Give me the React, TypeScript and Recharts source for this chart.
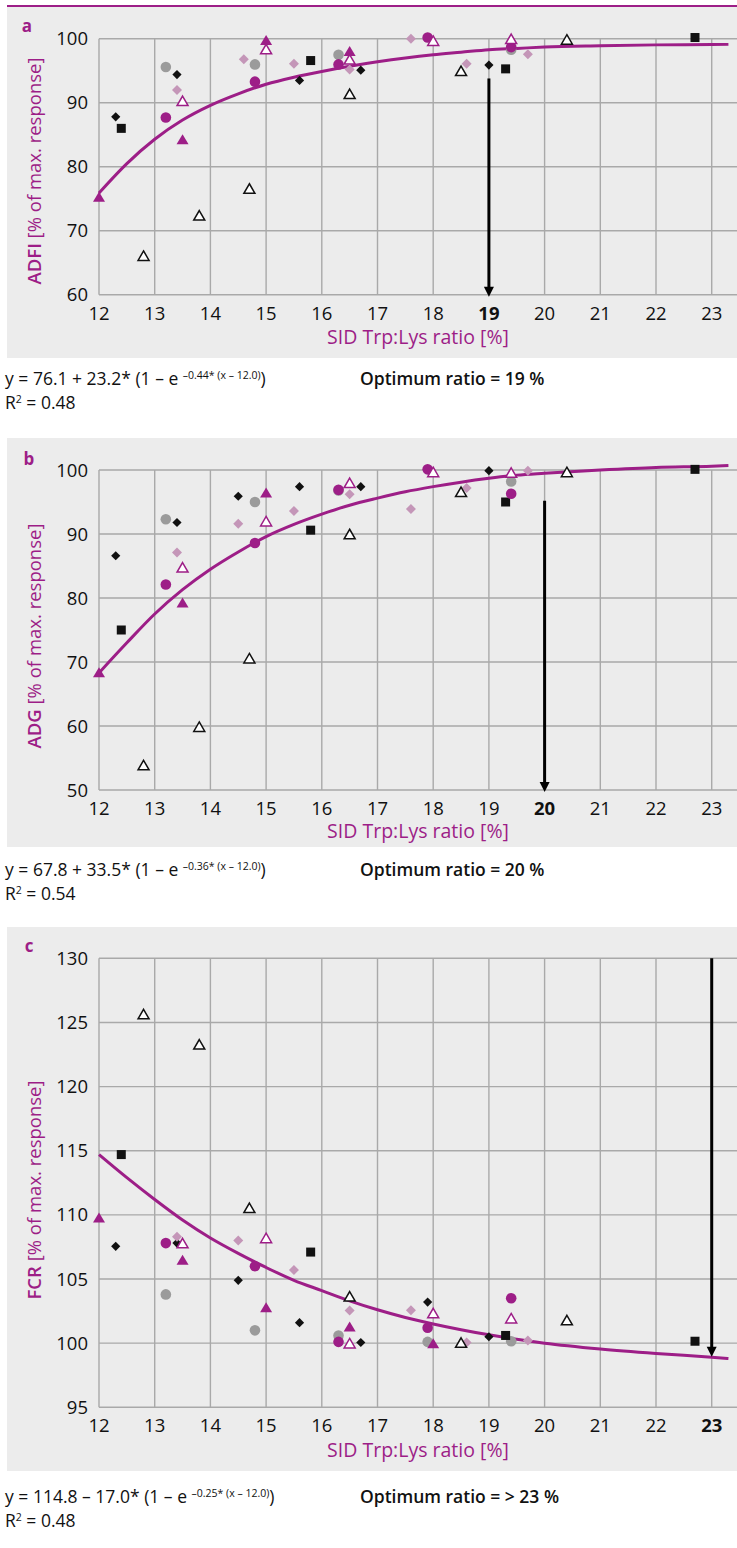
import React from "react";
import {
  ComposedChart,
  Scatter,
  Line,
  XAxis,
  YAxis,
  ReferenceLine,
} from "recharts";

const PURPLE = "#9d1e87";
const MAUVE = "#c496b8";
const GREY_DOT = "#9b9b9b";
const INK = "#111111";
const BG = "#ececec";
const GRID = "#a9a9a9";
const FONT = '"Open Sans", "Noto Sans", sans-serif';

type Pt = [number, number];

const xTicks = [12, 13, 14, 15, 16, 17, 18, 19, 20, 21, 22, 23];
const curveX = [12, 12.5, 13, 13.5, 14, 14.5, 15, 15.5, 16, 16.5, 17, 17.5, 18, 18.5, 19, 19.5, 20, 21, 22, 23, 23.3];

// a: ADFI
const adfiTicks = [60, 70, 80, 90, 100];
const adfiCurve = [75.9, 80.5, 84.3, 87.3, 89.6, 91.4, 92.9, 94.0, 94.9, 95.7, 96.4, 97.0, 97.5, 97.9, 98.3, 98.5, 98.7, 98.9, 99.05, 99.1, 99.15];
const adfiBlackDiamond: Pt[] = [[12.3, 87.8], [13.4, 94.4], [15.6, 93.5], [16.7, 95.1], [19.0, 95.9]];
const adfiBlackSquare: Pt[] = [[12.4, 86.0], [15.8, 96.6], [19.3, 95.3], [22.7, 100.2]];
const adfiGreyCircle: Pt[] = [[13.2, 95.6], [14.8, 96.0], [16.3, 97.5], [19.4, 98.3]];
const adfiPurpleCircle: Pt[] = [[13.2, 87.7], [14.8, 93.3], [16.3, 96.0], [17.9, 100.2], [19.4, 98.7]];
const adfiPurpleTri: Pt[] = [[12.0, 75.3], [13.5, 84.3], [15.0, 99.8], [16.5, 98.1]];
const adfiPurpleOpenTri: Pt[] = [[13.5, 90.3], [15.0, 98.4], [16.5, 96.8], [18.0, 99.7], [19.4, 100.0]];
const adfiBlackOpenTri: Pt[] = [[12.8, 66.1], [13.8, 72.4], [14.7, 76.6], [16.5, 91.4], [18.5, 95.0], [20.4, 99.9]];
const adfiMauveDiamond: Pt[] = [[13.4, 92.0], [14.6, 96.8], [15.5, 96.1], [16.5, 95.2], [17.6, 100.0], [18.6, 96.1], [19.7, 97.6]];

// b: ADG
const adgTicks = [50, 60, 70, 80, 90, 100];
const adgCurve = [68.3, 73.0, 77.5, 81.3, 84.5, 87.2, 89.6, 91.5, 93.1, 94.5, 95.6, 96.6, 97.4, 98.1, 98.7, 99.2, 99.5, 100.0, 100.4, 100.6, 100.7];
const adgBlackDiamond: Pt[] = [[12.3, 86.6], [13.4, 91.8], [14.5, 95.9], [15.6, 97.4], [16.7, 97.4], [19.0, 99.9]];
const adgBlackSquare: Pt[] = [[12.4, 75.0], [15.8, 90.6], [19.3, 95.0], [22.7, 100.1]];
const adgGreyCircle: Pt[] = [[13.2, 92.3], [14.8, 95.0], [16.3, 96.8], [19.4, 98.2]];
const adgPurpleCircle: Pt[] = [[13.2, 82.1], [14.8, 88.6], [16.3, 96.9], [17.9, 100.1], [19.4, 96.3]];
const adgPurpleTri: Pt[] = [[12.0, 68.4], [13.5, 79.3], [15.0, 96.5]];
const adgPurpleOpenTri: Pt[] = [[13.5, 84.8], [15.0, 92.0], [16.5, 98.0], [18.0, 99.7], [19.4, 99.6]];
const adgBlackOpenTri: Pt[] = [[12.8, 53.9], [13.8, 59.9], [14.7, 70.6], [16.5, 90.0], [18.5, 96.6], [20.4, 99.7]];
const adgMauveDiamond: Pt[] = [[13.4, 87.1], [14.5, 91.6], [15.5, 93.6], [16.5, 96.2], [17.6, 93.9], [18.6, 97.2], [19.7, 99.9]];

// c: FCR
const fcrTicks = [95, 100, 105, 110, 115, 120, 125, 130];
const fcrCurve = [114.7, 112.9, 111.2, 109.6, 108.2, 107.0, 105.9, 104.9, 104.1, 103.3, 102.6, 102.0, 101.5, 101.05, 100.65, 100.3, 100.0, 99.55, 99.2, 98.9, 98.8];
const fcrBlackDiamond: Pt[] = [[12.3, 107.55], [13.4, 107.8], [14.5, 104.9], [15.6, 101.6], [16.7, 100.05], [17.9, 103.2], [19.0, 100.5]];
const fcrBlackSquare: Pt[] = [[12.4, 114.7], [15.8, 107.1], [19.3, 100.6], [22.7, 100.15]];
const fcrGreyCircle: Pt[] = [[13.2, 103.8], [14.8, 101.0], [16.3, 100.6], [17.9, 100.1], [19.4, 100.15]];
const fcrPurpleCircle: Pt[] = [[13.2, 107.8], [14.8, 106.0], [16.3, 100.1], [17.9, 101.2], [19.4, 103.5]];
const fcrPurpleTri: Pt[] = [[12.0, 109.8], [13.5, 106.5], [15.0, 102.8], [16.5, 101.3], [18.0, 100.0]];
const fcrPurpleOpenTri: Pt[] = [[13.5, 107.8], [15.0, 108.2], [16.5, 100.0], [18.0, 102.35], [19.4, 101.95]];
const fcrBlackOpenTri: Pt[] = [[12.8, 125.65], [13.8, 123.3], [14.7, 110.55], [16.5, 103.65], [18.5, 100.05], [20.4, 101.8]];
const fcrMauveDiamond: Pt[] = [[13.4, 108.3], [14.5, 108.0], [15.5, 105.7], [16.5, 102.55], [17.6, 102.56], [18.6, 100.05], [19.7, 100.2]];

const pts = (arr: Pt[]) => arr.map(([x, y]) => ({ x, y }));
const curvePts = (ys: number[]) => curveX.map((x, i) => ({ x, y: ys[i] }));

// marker shapes
const diamond = (fill: string, r: number) => (p: any) => (
  <path d={`M${p.cx},${p.cy - r}L${p.cx + r},${p.cy}L${p.cx},${p.cy + r}L${p.cx - r},${p.cy}Z`} fill={fill} />
);
const square = (fill: string, s: number) => (p: any) => (
  <rect x={p.cx - s / 2} y={p.cy - s / 2} width={s} height={s} fill={fill} />
);
const circle = (fill: string, r: number) => (p: any) => <circle cx={p.cx} cy={p.cy} r={r} fill={fill} />;
const triangle = (fill: string, stroke: string, w: number, h: number) => (p: any) => (
  <path
    d={`M${p.cx},${p.cy - h / 2}L${p.cx + w / 2},${p.cy + h / 2}L${p.cx - w / 2},${p.cy + h / 2}Z`}
    fill={fill}
    stroke={stroke}
    strokeWidth={stroke === "none" ? 0 : 1.5}
  />
);
const arrowHead = (p: any) => (
  <path d={`M${p.cx - 5},${p.cy - 8}L${p.cx + 5},${p.cy - 8}L${p.cx},${p.cy + 2}Z`} fill="#000" />
);

const markerShapes = {
  greyCircle: circle(GREY_DOT, 5.3),
  blackDiamond: diamond(INK, 4.6),
  blackSquare: square(INK, 9),
  mauveDiamond: diamond(MAUVE, 5),
  purpleCircle: circle(PURPLE, 5.3),
  purpleTri: triangle(PURPLE, "none", 12, 10),
  purpleOpenTri: triangle("#ffffff", PURPLE, 11, 9.5),
  blackOpenTri: triangle("#ffffff", INK, 11, 9.5),
};
type Key = keyof typeof markerShapes;

type PanelProps = {
  top: number;
  height: number;
  mt: number;
  mb: number;
  yDomain: [number, number];
  yTicks: number[];
  curve: number[];
  series: [Key, Pt[]][];
  optimum: number;
  arrowFrom: number;
  arrowTo: number;
  arrowTip: number;
};

const X_MAX = 23.454;

function Panel(props: PanelProps) {
  const { top, height, mt, mb, yDomain, yTicks, curve, series, optimum } = props;
  const yTop = yTicks[yTicks.length - 1];
  const renderTick = (p: any) => (
    <text
      x={p.x}
      y={p.y + 13}
      textAnchor="middle"
      fontSize={18.5}
      fontWeight={p.payload.value === optimum ? 700 : 400}
      fill={INK}
    >
      {p.payload.value}
    </text>
  );
  return (
    <div style={{ position: "absolute", left: 7, top, width: 730, height, background: BG }}>
      <ComposedChart width={730} height={height} margin={{ top: mt, right: 0, bottom: mb, left: 32 }}>
        {yTicks.map((t) => (
          <ReferenceLine
            key={`h${t}`}
            segment={[{ x: 12, y: t }, { x: X_MAX, y: t }]}
            stroke={GRID}
            strokeWidth={1.4}
          />
        ))}
        {xTicks.map((t) => (
          <ReferenceLine
            key={`v${t}`}
            segment={[{ x: t, y: yDomain[0] }, { x: t, y: yTop }]}
            stroke={GRID}
            strokeWidth={1.4}
          />
        ))}
        <XAxis
          type="number"
          dataKey="x"
          domain={[12, X_MAX]}
          ticks={xTicks}
          interval={0}
          axisLine={false}
          tickLine={false}
          tickSize={0}
          tickMargin={12}
          height={30}
          tick={renderTick}
        />
        <YAxis
          type="number"
          dataKey="y"
          domain={yDomain}
          ticks={yTicks}
          interval={0}
          axisLine={false}
          tickLine={false}
          tickSize={0}
          tickMargin={11}
          width={60}
          tick={{ fill: INK, fontSize: 18.5 }}
        />
        <Line
          data={curvePts(curve)}
          dataKey="y"
          type="monotone"
          stroke={PURPLE}
          strokeWidth={3}
          dot={false}
          isAnimationActive={false}
        />
        {series.map(([key, data]) => (
          <Scatter key={key} data={pts(data)} shape={markerShapes[key]} isAnimationActive={false} />
        ))}
        <ReferenceLine
          segment={[{ x: optimum, y: props.arrowFrom }, { x: optimum, y: props.arrowTo }]}
          stroke="#000"
          strokeWidth={3}
        />
        <Scatter data={[{ x: optimum, y: props.arrowTip }]} shape={arrowHead} isAnimationActive={false} />
      </ComposedChart>
    </div>
  );
}

const sup: React.CSSProperties = { fontSize: 10.5, verticalAlign: "6px", lineHeight: "10px" };
const line: React.CSSProperties = {
  position: "absolute",
  fontSize: 17.5,
  lineHeight: "19px",
  color: INK,
  whiteSpace: "nowrap",
};

function Equation({ top, a, op, b, k, r2, opt }: any) {
  return (
    <>
      <div style={{ ...line, left: 5, top }}>
        y = {a} {op} {b}* (1 – e <span style={sup}>–{k}* (x – 12.0)</span>)
      </div>
      <div style={{ ...line, left: 5, top: top + 24 }}>
        R<span style={sup}>2</span> = {r2}
      </div>
      <div style={{ ...line, left: 360, top, fontWeight: 600 }}>Optimum ratio = {opt}</div>
    </>
  );
}

function YTitle({ cy, name }: { cy: number; name: string }) {
  return (
    <div
      style={{
        position: "absolute",
        left: 34,
        top: cy,
        transform: "translate(-50%, -50%) rotate(-90deg)",
        whiteSpace: "nowrap",
        color: PURPLE,
        fontSize: 18.5,
        lineHeight: 1,
        fontWeight: 500,
      }}
    >
      <span style={{ fontWeight: 600 }}>{name}</span> [% of max. response]
    </div>
  );
}

function XTitle({ cy }: { cy: number }) {
  return (
    <div
      style={{
        position: "absolute",
        left: 418,
        top: cy,
        transform: "translate(-50%, -50%)",
        whiteSpace: "nowrap",
        color: PURPLE,
        fontSize: 19.5,
        lineHeight: 1,
        fontWeight: 500,
      }}
    >
      SID Trp:Lys ratio [%]
    </div>
  );
}

function Letter({ x, y, t }: { x: number; y: number; t: string }) {
  return (
    <div style={{ position: "absolute", left: x, top: y, transform: "translate(-50%, -50%)", color: PURPLE, fontSize: 17, lineHeight: 1, fontWeight: 700 }}>
      {t}
    </div>
  );
}

export default function App() {
  return (
    <div style={{ position: "absolute", left: 0, top: 0, width: 737, height: 1548, fontFamily: FONT, background: "#fff" }}>
      <div style={{ position: "absolute", left: 7, top: 5, width: 730, height: 2, background: PURPLE }} />
      <Panel
        top={7}
        height={351}
        mt={25.4}
        mb={33.3}
        yDomain={[60, 101]}
        yTicks={adfiTicks}
        curve={adfiCurve}
        optimum={19}
        arrowFrom={93.8}
        arrowTo={60.8}
        arrowTip={60}
        series={[
          ["greyCircle", adfiGreyCircle],
          ["blackDiamond", adfiBlackDiamond],
          ["blackSquare", adfiBlackSquare],
          ["mauveDiamond", adfiMauveDiamond],
          ["purpleCircle", adfiPurpleCircle],
          ["purpleTri", adfiPurpleTri],
          ["purpleOpenTri", adfiPurpleOpenTri],
          ["blackOpenTri", adfiBlackOpenTri],
        ]}
      />
      <Letter x={27} y={25} t="a" />
      <YTitle cy={171} name="ADFI" />
      <XTitle cy={337} />
      <Equation top={369} a="76.1" op="+" b="23.2" k="0.44" r2="0.48" opt="19 %" />

      <Panel
        top={438}
        height={409}
        mt={25.6}
        mb={27}
        yDomain={[50, 101]}
        yTicks={adgTicks}
        curve={adgCurve}
        optimum={20}
        arrowFrom={95.2}
        arrowTo={50.8}
        arrowTip={50}
        series={[
          ["greyCircle", adgGreyCircle],
          ["blackDiamond", adgBlackDiamond],
          ["blackSquare", adgBlackSquare],
          ["mauveDiamond", adgMauveDiamond],
          ["purpleCircle", adgPurpleCircle],
          ["purpleTri", adgPurpleTri],
          ["purpleOpenTri", adgPurpleOpenTri],
          ["blackOpenTri", adgBlackOpenTri],
        ]}
      />
      <Letter x={29} y={458} t="b" />
      <YTitle cy={636} name="ADG" />
      <XTitle cy={831} />
      <Equation top={860} a="67.8" op="+" b="33.5" k="0.36" r2="0.54" opt="20 %" />

      <Panel
        top={927}
        height={544}
        mt={31.3}
        mb={33.7}
        yDomain={[95, 130]}
        yTicks={fcrTicks}
        curve={fcrCurve}
        optimum={23}
        arrowFrom={130}
        arrowTo={99.5}
        arrowTip={99.1}
        series={[
          ["greyCircle", fcrGreyCircle],
          ["blackDiamond", fcrBlackDiamond],
          ["blackSquare", fcrBlackSquare],
          ["mauveDiamond", fcrMauveDiamond],
          ["purpleCircle", fcrPurpleCircle],
          ["purpleTri", fcrPurpleTri],
          ["purpleOpenTri", fcrPurpleOpenTri],
          ["blackOpenTri", fcrBlackOpenTri],
        ]}
      />
      <Letter x={29} y={945} t="c" />
      <YTitle cy={1190} name="FCR" />
      <XTitle cy={1450} />
      <Equation top={1487} a="114.8" op="–" b="17.0" k="0.25" r2="0.48" opt="> 23 %" />
    </div>
  );
}
